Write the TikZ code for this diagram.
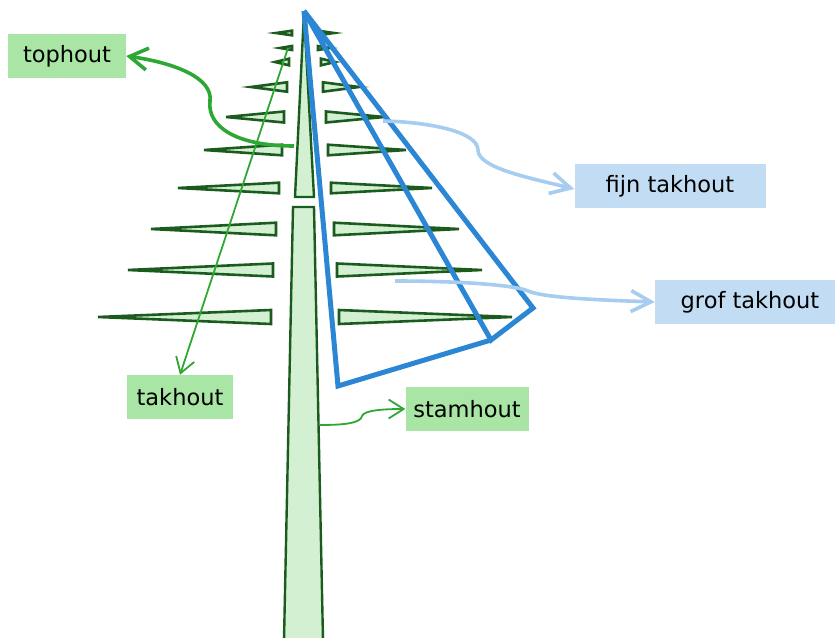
\documentclass[tikz,border=0pt]{standalone}
\usepackage{fontspec}
\setmainfont{DejaVu Sans}
\usetikzlibrary{arrows.meta}
\definecolor{bark}{RGB}{27,92,30}
\definecolor{needle}{RGB}{212,240,211}
\definecolor{leafbox}{RGB}{169,229,164}
\definecolor{leafline}{RGB}{46,168,52}
\definecolor{zoneblue}{RGB}{43,134,212}
\definecolor{skyline}{RGB}{166,205,239}
\definecolor{skybox}{RGB}{194,221,243}
\tikzset{
	woodlabel/.style={fill=leafbox, inner sep=0pt, minimum height=44pt, font=\fontsize{22.5}{26}\selectfont},
	twiglabel/.style={fill=skybox, inner sep=0pt, minimum height=44pt, font=\fontsize{22.5}{26}\selectfont},
	branch/.style={draw=bark, fill=needle, line width=2.6pt, line join=miter},
	trunk/.style={draw=bark, fill=needle, line width=2.4pt},
	zone/.style={draw=zoneblue, line width=5pt, line join=miter},
	thickleaf/.style={draw=leafline, line width=3.6pt, -{Straight Barb[length=18pt,width=22pt]}},
	thinleaf/.style={draw=leafline, line width=1.8pt, -{Straight Barb[length=15pt,width=19pt]}},
	twigarrow/.style={draw=skyline, line width=3.6pt, -{Straight Barb[length=20pt,width=21pt]}}
}
\begin{document}
\begin{tikzpicture}[x=1pt,y=-1pt]
		\useasboundingbox (0,0) rectangle (835,637);

		% branches: height / base offset / tip offset / half thickness
		\foreach \y/\b/\t/\h in {33/13/29/2.3, 48/13/25/2, 62/16/30/3.3, 87/18/54/4.7,
				117/21/79/5.5, 150/23/101/5.3, 188/26/127/5.3, 229/29/154/6.3,
				270/32/177/6.5, 317/34/207/7}{
				\draw[branch] ({305-\b},{\y-\h}) -- ({305-\t},\y) -- ({305-\b},{\y+\h}) -- cycle;
				\draw[branch] ({305+\b},{\y-\h}) -- ({305+\t},\y) -- ({305+\b},{\y+\h}) -- cycle;
			}

		% top piece and stem
		\draw[trunk] (304,12) -- (314,197) -- (295,197) -- cycle;
		\draw[trunk] (293,207) -- (314,207) -- (323,640) -- (284,640) -- cycle;

		% outlines of the fine and coarse branch wood
		\draw[zone] (304,11) -- (533,308) -- (491,340) -- cycle;
		\draw[zone] (304,11) -- (338,386) -- (491,340);

		% labels
		\node[woodlabel, minimum width=118pt] (tophout) at (67,56) {tophout};
		\node[woodlabel, minimum width=106pt] (takhout) at (180,397) {takhout};
		\node[woodlabel, minimum width=123pt] (stamhout) at (467,409) {stamhout};
		\node[twiglabel, minimum width=191pt] (fijn) at (670,186) {fijn takhout};
		\node[twiglabel, minimum width=180pt] (grof) at (745,302) {\hspace{10pt}grof takhout};

		% arrows
		\coordinate (topsrc) at (294,146);
		\coordinate (twigsrc) at (288,48);
		\coordinate (stemsrc) at (320,425);
		\coordinate (finesrc) at (383,121);
		\coordinate (coarsesrc) at (395,281);

		\draw[thickleaf] (topsrc) .. controls (235,146) and (207,126) .. (210,101)
			.. controls (213,78) and (175,63) .. (tophout.east);
		\draw[thinleaf] (twigsrc) -- (takhout.north);
		\draw[thinleaf] (stemsrc) .. controls (345,425) and (361,423) .. (362,416)
			.. controls (364,410) and (385,409) .. (stamhout.west);
		\draw[twigarrow] (finesrc) .. controls (430,122) and (478,132) .. (478,150)
			.. controls (478,168) and (530,178) .. ([yshift=-3pt]fijn.west);
		\draw[twigarrow] (coarsesrc) .. controls (460,281) and (515,285) .. (528,291)
			.. controls (545,298) and (600,300) .. (grof.west);
	\end{tikzpicture}
\end{document}
